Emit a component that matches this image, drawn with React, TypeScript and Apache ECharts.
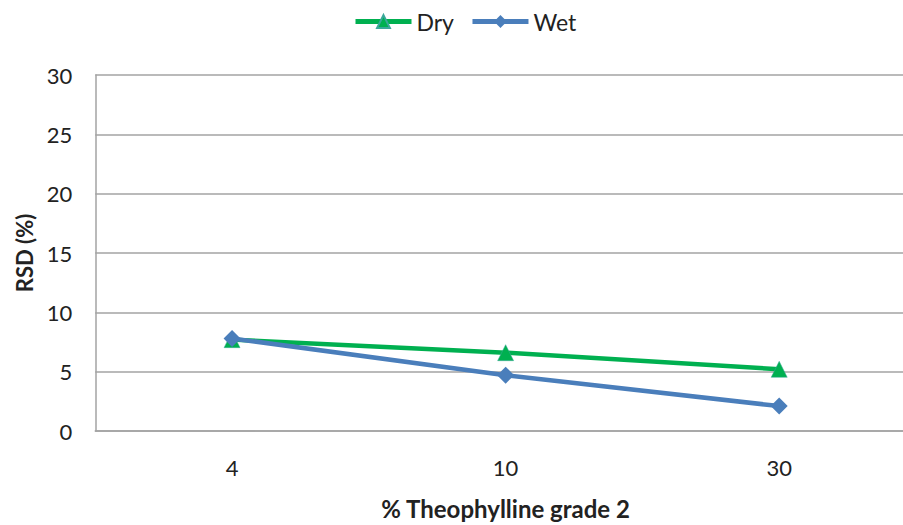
import React, { useEffect, useRef } from "react";
import * as echarts from "echarts";

const categories = ["4", "10", "30"];
const dryValues = [7.7, 6.6, 5.2];
const wetValues = [7.8, 4.7, 2.1];
const yTicks = { min: 0, max: 30, interval: 5 };

const FONT = "Lato, 'Open Sans', sans-serif";
const TEXT = "#222222";
const GRID = "#a3a3a3";

export default function App() {
  const ref = useRef<HTMLDivElement>(null);
  useEffect(() => {
    if (!ref.current) return;
    const chart = echarts.init(ref.current, undefined, { renderer: "svg", width: 920, height: 525 });
    chart.setOption({
      animation: false,
      backgroundColor: "#ffffff",
      textStyle: { fontFamily: FONT },
      legend: {
        top: 5,
        left: 348,
        itemWidth: 56,
        itemHeight: 16,
        itemGap: 16,
        lineStyle: { width: 5 },
        textStyle: { fontSize: 23, color: TEXT, fontFamily: FONT },
        data: ["Dry", "Wet"],
      },
      grid: { left: 95.25, right: 4, top: 75, bottom: 89.5, containLabel: false },
      xAxis: {
        type: "category",
        data: categories,
        boundaryGap: true,
        axisLine: { show: true, lineStyle: { color: GRID, width: 1.5 } },
        axisTick: { show: false },
        axisLabel: { fontSize: 22, color: TEXT, margin: 25, fontFamily: FONT },
        name: "% Theophylline grade 2",
        nameLocation: "middle",
        nameGap: 65,
        nameTextStyle: { fontSize: 24, fontWeight: "bold", color: TEXT, fontFamily: FONT },
      },
      yAxis: {
        type: "value",
        min: yTicks.min,
        max: yTicks.max,
        interval: yTicks.interval,
        axisLine: { show: true, lineStyle: { color: GRID, width: 1.5 } },
        axisTick: { show: false },
        axisLabel: { fontSize: 22, color: TEXT, margin: 23, fontFamily: FONT },
        splitLine: { show: true, lineStyle: { color: GRID, width: 1.5 } },
        name: "RSD (%)",
        nameLocation: "middle",
        nameGap: 58,
        nameRotate: 90,
        nameTextStyle: { fontSize: 22, fontWeight: "bold", color: TEXT, fontFamily: FONT },
      },
      series: [
        {
          name: "Dry",
          type: "line",
          data: dryValues,
          symbol: "triangle",
          symbolSize: 16,
          lineStyle: { color: "#00b050", width: 4.5 },
          itemStyle: { color: "#00b050", borderColor: "#3aa89a", borderWidth: 0.5 },
        },
        {
          name: "Wet",
          type: "line",
          data: wetValues,
          symbol: "diamond",
          symbolSize: 17,
          lineStyle: { color: "#4a7ebb", width: 4.5 },
          itemStyle: { color: "#4a7ebb" },
        },
      ],
    });
    return () => chart.dispose();
  }, []);
  return (
    <div
      style={{
        position: "absolute",
        left: 0,
        top: 0,
        width: 903,
        height: 525,
        overflow: "hidden",
        background: "#ffffff",
      }}
    >
      <div ref={ref} style={{ width: 920, height: 525 }} />
    </div>
  );
}
